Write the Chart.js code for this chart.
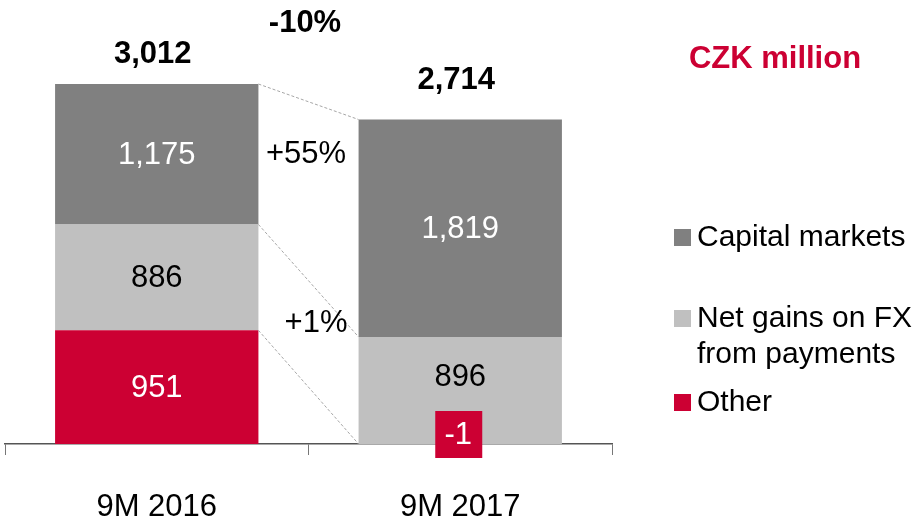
<!DOCTYPE html>
<html>
<head>
<meta charset="utf-8">
<script src="https://cdn.jsdelivr.net/npm/chart.js@4.4.1/dist/chart.umd.min.js"></script>
<style>
  body { margin: 0; background: #fff; }
  #wrap { width: 912px; height: 525px; }
</style>
</head>
<body>
<div id="wrap"><canvas id="chart" width="912" height="525"></canvas></div>
<script>
var categories = ['9M 2016', '9M 2017'];
var capitalMarkets = [1175, 1819];
var netGainsFx = [886, 896];
var other = [951, -1];
var totals = ['3,012', '2,714'];
var changeTotal = '-10%';
var changeCapital = '+55%';
var changeFx = '+1%';
var unitLabel = 'CZK million';

var FONT = '"Liberation Sans", Arial, sans-serif';
var RED = '#cc0033';
var DARK = '#808080';
var LIGHT = '#c0c0c0';

function fmt(v) {
    return v.toLocaleString('en-US');
}

// labels, connectors, legend and notes drawn on top of the bars
var extras = {
    id: 'extras',
    afterDatasetsDraw: function(chart) {
        var ctx = chart.ctx;
        var metas = [0, 1, 2].map(function(i) { return chart.getDatasetMeta(i); });
        ctx.save();

        // connector lines between bars
        ctx.strokeStyle = '#a6a6a6';
        ctx.lineWidth = 1;
        ctx.setLineDash([3, 2]);
        metas.forEach(function(m, i) {
            var a = m.data[0], b = m.data[1];
            var yb = i === 0 ? metas[1].data[1].base : b.y;
            ctx.beginPath();
            ctx.moveTo(a.x + a.width / 2, a.y);
            ctx.lineTo(b.x - b.width / 2, yb);
            ctx.stroke();
        });
        ctx.setLineDash([]);

        // values inside segments
        ctx.textAlign = 'center';
        ctx.textBaseline = 'middle';
        ctx.font = '31px ' + FONT;
        var colors = ['#fff', '#000', '#fff'];
        metas.forEach(function(m, i) {
            m.data.forEach(function(el, j) {
                var v = chart.data.datasets[i].data[j];
                if (v < 0) {
                    var bx = el.x - 2, by = el.base;
                    ctx.fillStyle = RED;
                    ctx.fillRect(bx - 23, by - 33, 47, 47);
                    ctx.fillStyle = '#fff';
                    ctx.fillText(fmt(v), bx, by - 9);
                } else {
                    // lift the label when a negative box sits under it
                    var lift = (i > 0 && chart.data.datasets[i - 1].data[j] < 0) ? 14 : 0;
                    ctx.fillStyle = colors[i];
                    ctx.fillText(fmt(v), el.x, (el.y + el.base) / 2 + 1 - lift);
                }
            });
        });

        // totals
        ctx.font = 'bold 31px ' + FONT;
        ctx.fillStyle = '#000';
        var offs = [30, 39];
        metas[2].data.forEach(function(el, j) {
            ctx.fillText(totals[j], el.x - 4, el.y - offs[j]);
        });
        ctx.fillText(changeTotal, 305, 23);

        ctx.font = '31px ' + FONT;
        ctx.fillText(changeCapital, 306, 154);
        ctx.fillText(changeFx, 316, 323);

        // unit
        ctx.font = 'bold 31px ' + FONT;
        ctx.fillStyle = RED;
        ctx.fillText(unitLabel, 775, 59);

        // legend
        ctx.textAlign = 'left';
        ctx.font = '30px ' + FONT;
        var items = [
            { ds: 2, y: 237, lines: ['Capital markets'] },
            { ds: 1, y: 318, lines: ['Net gains on FX', 'from payments'] },
            { ds: 0, y: 402, lines: ['Other'] }
        ];
        items.forEach(function(it) {
            var ds = chart.data.datasets[it.ds];
            ctx.fillStyle = ds.backgroundColor;
            ctx.fillRect(674, it.y - 8, 17, 17);
            ctx.fillStyle = '#000';
            it.lines.forEach(function(t, k) {
                ctx.fillText(t, 697, it.y + 1 + k * 36);
            });
        });
        ctx.restore();
    }
};

document.addEventListener('DOMContentLoaded', function() {
    var context = document.getElementById('chart').getContext('2d');
    new Chart(context, {
        type: 'bar',
        data: {
            labels: categories,
            datasets: [
                { label: 'Other', data: other, backgroundColor: RED },
                { label: 'Net gains on FX from payments', data: netGainsFx, backgroundColor: LIGHT },
                { label: 'Capital markets', data: capitalMarkets, backgroundColor: DARK }
            ]
        },
        options: {
            responsive: false,
            animation: false,
            devicePixelRatio: 1,
            categoryPercentage: 1,
            barPercentage: 0.67,
            layout: { padding: { left: 5, right: 300, top: 0, bottom: 2 } },
            plugins: {
                legend: { display: false },
                tooltip: { enabled: false }
            },
            scales: {
                x: {
                    stacked: true,
                    afterFit: function(scale) { scale.height = 79; },
                    border: { display: true, color: '#555', width: 1.5 },
                    grid: {
                        drawOnChartArea: false,
                        drawTicks: true,
                        tickLength: 11,
                        color: '#777',
                        offset: true
                    },
                    ticks: {
                        color: '#000',
                        padding: 37,
                        font: { family: FONT, size: 31, lineHeight: 1 }
                    }
                },
                y: {
                    stacked: true,
                    display: false,
                    min: 0,
                    max: 3715
                }
            }
        },
        plugins: [extras]
    });
});
</script>
</body>
</html>
